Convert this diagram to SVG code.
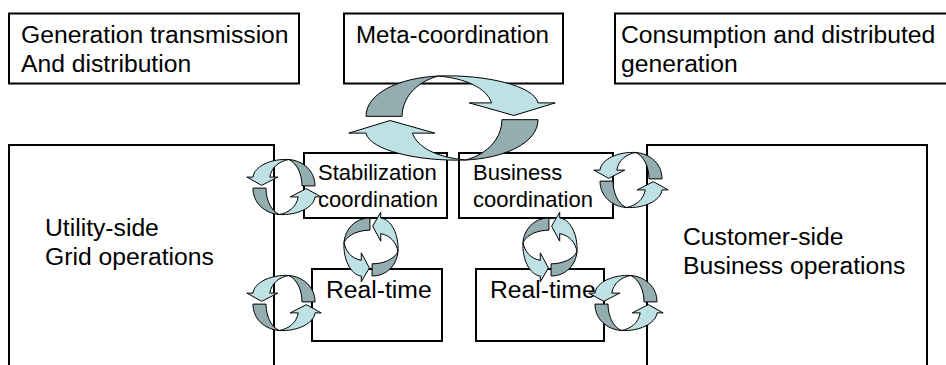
<svg xmlns="http://www.w3.org/2000/svg" xmlns:xlink="http://www.w3.org/1999/xlink" width="946" height="365" viewBox="0 0 946 365">
<style>
.box{fill:#fff;stroke:#000;stroke-width:2}
.t{font-family:"Liberation Sans",Arial,sans-serif;font-size:24.7px;fill:#000}
.s{font-family:"Liberation Sans",Arial,sans-serif;font-size:22px;fill:#000}
.dk{fill:#93ADB1;stroke:#000;stroke-width:1;stroke-linejoin:round}
.lt{fill:#BDE1E4;stroke:#000;stroke-width:1;stroke-linejoin:round}
</style>
<defs>
<g id="cyc">
<path class="dk" vector-effect="non-scaling-stroke" d="M-50,-2 C-50,-30 -30,-48 -8,-50 C-22,-42 -29,-22 -29,-2 Z"/>
<path class="lt" vector-effect="non-scaling-stroke" d="M-8,-50 C20,-52 48,-38 50,-18 L60,-18 L36,-3 L10,-18 L23,-18 C20,-36 8,-47 -8,-50 Z"/>
<path class="dk" vector-effect="non-scaling-stroke" d="M50,2 C50,30 30,48 8,50 C22,42 29,22 29,2 Z"/>
<path class="lt" vector-effect="non-scaling-stroke" d="M8,50 C-20,52 -48,38 -50,18 L-60,18 L-36,3 L-10,18 L-23,18 C-20,36 -8,47 8,50 Z"/>
</g>
</defs>
<rect width="946" height="365" fill="#fff"/>
<g id="gen">
<rect class="box" x="9" y="13.5" width="290" height="70"/>
<text class="t" x="21" y="43">Generation transmission</text>
<text class="t" x="21" y="72">And distribution</text>
</g>
<g id="meta">
<rect class="box" x="344" y="13.5" width="219" height="70"/>
<text class="t" x="356" y="43" textLength="193" lengthAdjust="spacingAndGlyphs">Meta-coordination</text>
</g>
<g id="consumption">
<rect class="box" x="615" y="13.5" width="345" height="70"/>
<text class="t" x="621" y="43">Consumption and distributed</text>
<text class="t" x="621" y="72">generation</text>
</g>
<g id="utility">
<rect class="box" x="9" y="145" width="265" height="240"/>
<text class="t" x="45" y="236">Utility-side</text>
<text class="t" x="45" y="265">Grid operations</text>
</g>
<g id="customer">
<rect class="box" x="647" y="145" width="280" height="240"/>
<text class="t" x="683" y="245">Customer-side</text>
<text class="t" x="683" y="274">Business operations</text>
</g>
<g id="stabilization">
<rect class="box" x="304" y="153" width="143" height="65"/>
<text class="s" x="318" y="180">Stabilization</text>
<text class="s" x="318" y="207">coordination</text>
</g>
<g id="business">
<rect class="box" x="459" y="153" width="154" height="65"/>
<text class="s" x="473" y="180">Business</text>
<text class="s" x="473" y="207">coordination</text>
</g>
<g id="realtime-left">
<rect class="box" x="312" y="269" width="130" height="72"/>
<text class="t" x="326" y="298">Real-time</text>
</g>
<g id="realtime-right">
<rect class="box" x="476" y="269" width="128" height="72"/>
<text class="t" x="490" y="298">Real-time</text>
</g>
<g id="connectors">
<use xlink:href="#cyc" transform="translate(452,118) scale(1.72,0.84)"/>
<use xlink:href="#cyc" transform="translate(284,187) scale(-0.62,0.55)"/>
<use xlink:href="#cyc" transform="translate(631,180) scale(-0.62,0.55)"/>
<use xlink:href="#cyc" transform="translate(371,247) rotate(-90) scale(-0.58,0.54)"/>
<use xlink:href="#cyc" transform="translate(550,247) rotate(-90) scale(-0.58,0.54)"/>
<use xlink:href="#cyc" transform="translate(284,303) scale(-0.62,0.55)"/>
<use xlink:href="#cyc" transform="translate(626,303) scale(-0.62,0.55)"/>
</g>
</svg>
